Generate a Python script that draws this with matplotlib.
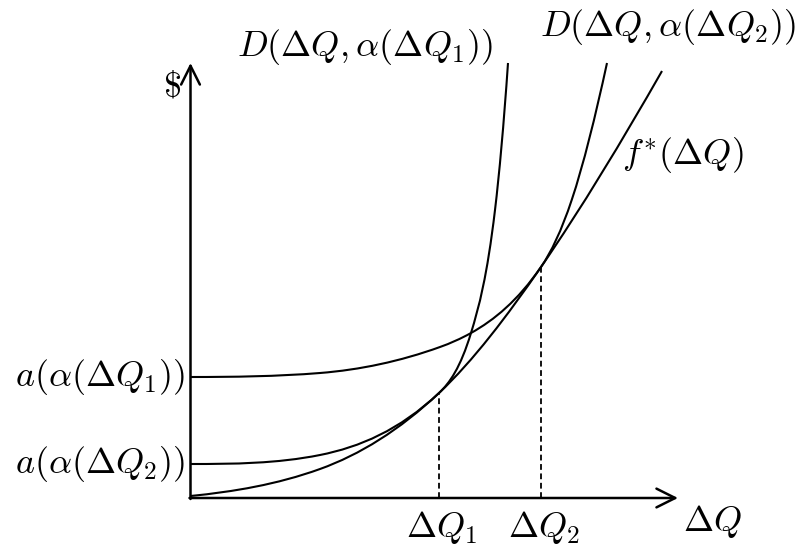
import matplotlib
matplotlib.use("Agg")
import matplotlib.pyplot as plt
from matplotlib.path import Path
from matplotlib.patches import PathPatch

plt.rcParams['mathtext.fontset'] = 'cm'
plt.rcParams['font.family'] = 'DejaVu Serif'

# Knots along each curve: ΔQ position, $ value, slope at the knot
fstar_q = [0.0, 1.295, 2.485, 3.505, 4.715]
fstar_v = [0.02, 0.29, 1.05, 2.31, 4.27]
fstar_s = [0.10, 0.36, 0.94, 1.45, 1.75]

d1_q = [0.0, 1.295, 2.485, 2.805, 3.045, 3.175]
d1_v = [0.34, 0.43, 1.05, 1.65, 2.88, 4.35]
d1_s = [0.0, 0.20, 0.94, 3.28, 8.4, 14.5]

d2_q = [0.0, 1.295, 2.495, 2.805, 3.505, 3.812, 4.165]
d2_v = [1.21, 1.25, 1.51, 1.65, 2.31, 2.98, 4.35]
d2_s = [0.0, 0.08, 0.36, 0.56, 1.45, 3.0, 4.6]

# Tangency points ΔQ1, ΔQ2 on f*
tangent_q = [2.485, 3.505]
tangent_v = [1.05, 2.31]

# Intercept labels on the $ axis
intercept_v = [1.21, 0.34]
intercept_labels = [r'$a(\alpha(\Delta Q_1))$', r'$a(\alpha(\Delta Q_2))$']
tick_labels = [r'$\Delta Q_1$', r'$\Delta Q_2$']

x_end, y_end = 4.875, 4.35


def smooth_path(q, v, s):
    """Cubic Bezier path through the knots with the given slopes."""
    verts = [(q[0], v[0])]
    codes = [Path.MOVETO]
    for i in range(len(q) - 1):
        h = (q[i + 1] - q[i]) / 3.0
        verts += [(q[i] + h, v[i] + h * s[i]),
                  (q[i + 1] - h, v[i + 1] - h * s[i + 1]),
                  (q[i + 1], v[i + 1])]
        codes += [Path.CURVE4] * 3
    return Path(verts, codes)


fig = plt.figure(figsize=(8.04, 5.47), dpi=100)
ax = fig.add_axes([0, 0, 1, 1])
ax.set_xlim(-1.905, 6.135)
ax.set_ylim(-0.49, 4.98)
ax.axis('off')

lw_curve = 1.5
for q, v, s in [(fstar_q, fstar_v, fstar_s), (d1_q, d1_v, d1_s), (d2_q, d2_v, d2_s)]:
    ax.add_patch(PathPatch(smooth_path(q, v, s), fill=False, ec='black',
                           lw=lw_curve, capstyle='butt', joinstyle='round'))

# Dashed drop lines from the tangency points
for q, v in zip(tangent_q, tangent_v):
    ax.plot([q, q], [0, v], color='black', lw=1.3, ls=(0, (3.2, 2.0)))

# Axes with open arrowheads
arrow = dict(arrowstyle='->,head_length=0.9,head_width=0.45', color='black',
             lw=1.8, shrinkA=0, shrinkB=0, mutation_scale=15)
ax.annotate('', xy=(0, y_end), xytext=(0, -0.01), arrowprops=arrow)
ax.annotate('', xy=(x_end, 0), xytext=(-0.01, 0), arrowprops=arrow)

fs = 26
ax.text(-0.185, 4.12, r'$\$$', fontsize=fs, ha='center', va='center')
ax.text(5.215, -0.23, r'$\Delta Q$', fontsize=fs, ha='center', va='center')
ax.text(1.745, 4.51, r'$D(\Delta Q,\alpha(\Delta Q_1))$', fontsize=fs,
        ha='center', va='center')
ax.text(4.775, 4.71, r'$D(\Delta Q,\alpha(\Delta Q_2))$', fontsize=fs,
        ha='center', va='center')
ax.text(4.925, 3.43, r'$f^{*}(\Delta Q)$', fontsize=fs, ha='center', va='center')

for v, lab in zip(intercept_v, intercept_labels):
    ax.text(-0.055, v, lab, fontsize=fs, ha='right', va='center')
for q, lab in zip(tangent_q, tick_labels):
    ax.text(q + 0.03, -0.29, lab, fontsize=fs, ha='center', va='center')

fig.savefig('out.png', dpi=100, facecolor='white')
